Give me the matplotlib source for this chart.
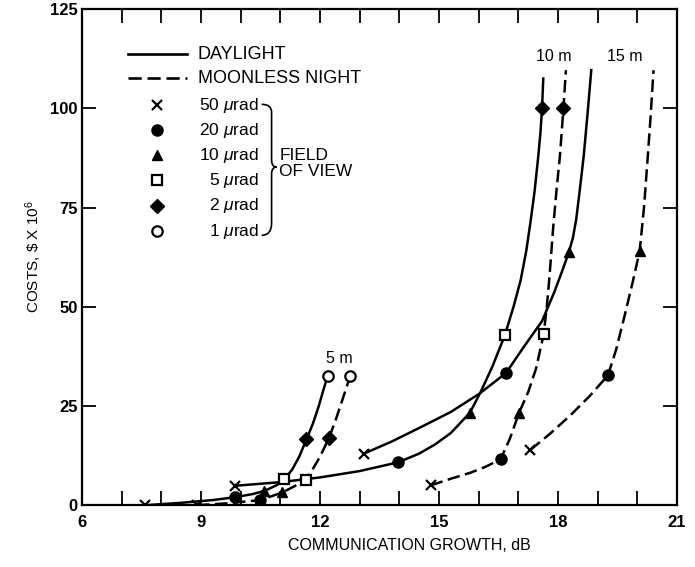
import numpy as np
import matplotlib.pyplot as plt
from matplotlib.path import Path
from matplotlib.patches import PathPatch

plt.rcParams['font.family'] = ['Liberation Sans', 'DejaVu Sans']
plt.rcParams['mathtext.fontset'] = 'custom'
plt.rcParams['mathtext.rm'] = 'Liberation Sans'
plt.rcParams['mathtext.it'] = 'Liberation Sans:italic'

# field of view (urad), in the order markers run up each curve
fov = [50, 20, 10, 5, 2, 1]

# curves: communication growth (dB) and cost ($ x 10^6)
day5_db = [7.6, 8.5, 9.3, 9.85, 10.3, 10.6, 10.9, 11.1, 11.3, 11.48, 11.66,
           11.82, 11.97, 12.08, 12.19]
day5_cost = [0.0, 0.6, 1.3, 2.0, 2.8, 3.6, 5.0, 6.5, 9.0, 12.3, 16.6,
             20.5, 25.0, 28.8, 32.5]
night5_db = [8.9, 9.7, 10.5, 11.05, 11.4, 11.64, 11.8, 12.0, 12.23, 12.4,
             12.58, 12.76]
night5_cost = [0.0, 0.5, 1.3, 3.2, 5.0, 6.4, 8.8, 12.2, 17.0, 21.6, 27.0, 32.5]

day10_db = [9.87, 11.0, 12.0, 13.0, 13.97, 14.5, 14.9, 15.3, 15.78, 16.05,
            16.35, 16.66, 16.88, 17.06, 17.2, 17.31, 17.41, 17.5, 17.56,
            17.60, 17.63]
day10_cost = [4.9, 5.8, 7.0, 8.6, 10.8, 13.0, 15.3, 18.2, 23.3, 28.5,
              35.0, 42.8, 50.0, 56.7, 64.0, 71.5, 79.0, 87.5, 94.0,
              100.2, 107.5]
night10_db = [14.79, 15.34, 15.8, 16.19, 16.4, 16.56, 16.79, 17.02, 17.25,
              17.45, 17.64, 17.72, 17.79, 17.88, 17.97, 18.05, 18.14, 18.2]
night10_cost = [5.0, 6.8, 8.2, 9.75, 10.8, 11.7, 16.8, 23.3, 28.5,
                34.5, 43.1, 50.0, 58.0, 70.0, 80.0, 88.0, 100.2, 109.6]

day15_db = [13.11, 13.8, 14.51, 15.3, 16.02, 16.69, 17.13, 17.6, 17.9,
            18.1, 18.28, 18.38, 18.46, 18.54, 18.65, 18.75, 18.84]
day15_cost = [13.0, 16.0, 19.5, 23.5, 28.1, 33.3, 39.75, 46.4, 53.5,
              58.8, 63.9, 67.5, 72.0, 78.5, 88.0, 99.0, 109.6]
night15_db = [17.30, 17.8, 18.32, 18.8, 19.26, 19.47, 19.68, 19.88, 20.06,
              20.17, 20.25, 20.33, 20.41]
night15_cost = [13.9, 18.0, 22.7, 27.5, 32.7, 39.3, 47.7, 56.0, 64.0,
                75.0, 85.8, 97.0, 109.6]

# marker points, one per field of view (50 urad first)
day5_mk_db = [7.6, 9.85, 10.6, 11.1, 11.66, 12.19]
day5_mk_cost = [0.0, 2.0, 3.6, 6.5, 16.6, 32.5]
night5_mk_db = [8.9, 10.5, 11.05, 11.64, 12.23, 12.76]
night5_mk_cost = [0.0, 1.3, 3.2, 6.4, 17.0, 32.5]
day10_mk_db = [9.87, 13.97, 15.78, 16.66, 17.60]
day10_mk_cost = [4.9, 10.8, 23.3, 42.8, 100.2]
night10_mk_db = [14.79, 16.56, 17.02, 17.64, 18.14]
night10_mk_cost = [5.0, 11.7, 23.3, 43.1, 100.2]
day15_mk_db = [13.11, 16.69, 18.28]
day15_mk_cost = [13.0, 33.3, 63.9]
night15_mk_db = [17.30, 19.26, 20.06]
night15_mk_cost = [13.9, 32.7, 64.0]

# one marker style per field of view
mk_style = [
    dict(marker='x', ms=6.5, mew=1.6, mfc='black', mec='black'),
    dict(marker='o', ms=8, mew=1, mfc='black', mec='black'),
    dict(marker='^', ms=7.5, mew=1, mfc='black', mec='black'),
    dict(marker='s', ms=7, mew=1.6, mfc='white', mec='black'),
    dict(marker='D', ms=7, mew=1, mfc='black', mec='black'),
    dict(marker='o', ms=7.5, mew=1.6, mfc='white', mec='black'),
]
dash = (0, (5, 2.2))
fs = 12.5

fig = plt.figure(figsize=(6.95, 5.67), dpi=100)
ax = fig.add_axes([0.118, 0.109, 0.856, 0.875])

curves = [
    (day5_db, day5_cost, day5_mk_db, day5_mk_cost, '-'),
    (night5_db, night5_cost, night5_mk_db, night5_mk_cost, dash),
    (day10_db, day10_cost, day10_mk_db, day10_mk_cost, '-'),
    (night10_db, night10_cost, night10_mk_db, night10_mk_cost, dash),
    (day15_db, day15_cost, day15_mk_db, day15_mk_cost, '-'),
    (night15_db, night15_cost, night15_mk_db, night15_mk_cost, dash),
]
for xs, ys, mx, my, ls in curves:
    ax.plot(xs, ys, color='black', lw=1.8, ls=ls, zorder=2)
    for k in range(len(mx)):
        ax.plot(mx[k], my[k], ls='none', zorder=3, **mk_style[k])

# aperture labels
ax.text(12.5, 37, '5 m', fontsize=11.5, ha='center', va='center')
ax.text(17.89, 113, '10 m', fontsize=11.5, ha='center', va='center')
ax.text(19.68, 113, '15 m', fontsize=11.5, ha='center', va='center')

# hand-made legend
ax.plot([7.16, 8.65], [113.6, 113.6], color='black', lw=1.9)
ax.plot([7.16, 8.65], [107.6, 107.6], color='black', lw=1.9, ls=dash)
ax.text(8.92, 113.6, 'DAYLIGHT', fontsize=13, va='center')
ax.text(8.92, 107.6, 'MOONLESS NIGHT', fontsize=13, va='center')
rows = [100.8, 94.5, 88.2, 81.9, 75.4, 69.0]
for k in range(len(fov)):
    ax.plot(7.89, rows[k], ls='none', **mk_style[k])
    ax.text(10.46, rows[k], r'%d $\mu$rad' % fov[k], fontsize=fs,
            ha='right', va='center')

verts = [(10.53, 101.0), (10.78, 101.0), (10.78, 99.0), (10.78, 87.0),
         (10.78, 85.2), (10.91, 85.2), (10.78, 85.2), (10.78, 83.4),
         (10.78, 71.0), (10.78, 68.0), (10.53, 68.0)]
codes = [Path.MOVETO, Path.CURVE3, Path.CURVE3, Path.LINETO,
         Path.CURVE3, Path.CURVE3, Path.CURVE3, Path.CURVE3,
         Path.LINETO, Path.CURVE3, Path.CURVE3]
ax.add_patch(PathPatch(Path(verts, codes), fc='none', ec='black', lw=1.2))
ax.text(10.97, 88.0, 'FIELD', fontsize=fs, va='center')
ax.text(10.97, 84.0, 'OF VIEW', fontsize=fs, va='center')

ax.set_xlim(6, 21)
ax.set_ylim(0, 125)
ax.set_xticks(np.arange(6, 22, 3))
ax.set_xticks(np.arange(6, 22, 1), minor=True)
ax.set_yticks(np.arange(0, 126, 25))
ax.tick_params(which='both', direction='in', length=10, width=1.3,
               top=True, right=True, labelsize=12)
ax.tick_params(axis='x', pad=7)
ax.tick_params(axis='y', pad=3)
for lab in ax.get_xticklabels() + ax.get_yticklabels():
    lab.set_fontweight('bold')
for s in ax.spines.values():
    s.set_linewidth(1.6)

ax.set_xlabel('COMMUNICATION GROWTH, dB', fontsize=11.5, va='center')
ax.xaxis.set_label_coords(0.55, -0.082)
ax.set_ylabel(r'COSTS, \$ X 10$^6$', fontsize=11, va='center')
ax.yaxis.set_label_coords(-0.081, 0.5)

fig.savefig('out.png', dpi=100)
